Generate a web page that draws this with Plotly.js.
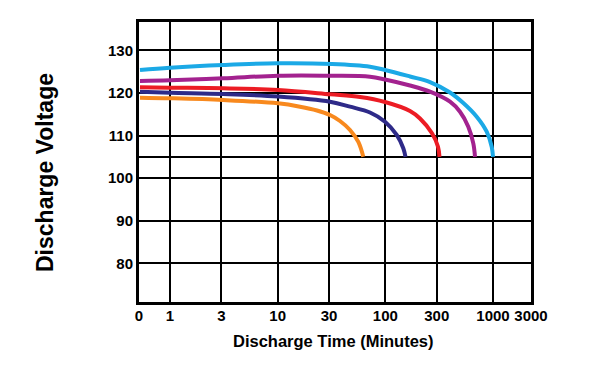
<!DOCTYPE html>
<html>
<head>
<meta charset="utf-8">
<script src="https://cdn.plot.ly/plotly-3.0.1.min.js"></script>
<style>html,body{margin:0;padding:0;background:#fff;}#chart{width:600px;height:368px;}</style>
</head>
<body>
<div id="chart"></div>
<script>
// Discharge time (minutes) and voltage for each curve
const blueT   = [0.526, 1, 3.11, 10.07, 31.97, 72.0, 99.3, 169.4, 259.9, 398.7, 529.9, 705.6, 873.9, 972.3, 1000];
const blueV   = [125.38, 125.91, 126.55, 126.95, 126.78, 126.15, 125.38, 123.85, 122.55, 120.10, 117.63, 114.42, 110.90, 107.38, 105];
const purpleT = [0.526, 1, 3.11, 10.07, 31.97, 72.0, 99.3, 169.4, 259.9, 398.7, 493.6, 589.5, 656.2, 680.4];
const purpleV = [122.80, 122.96, 123.43, 124.04, 124.04, 123.80, 123.15, 121.74, 120.29, 117.94, 115.59, 112.08, 108.18, 105];
const redT    = [0.526, 1, 3.11, 10.07, 30.62, 58.2, 99.3, 169.4, 209.8, 271.3, 308.4, 318.4];
const redV    = [121.32, 121.22, 121.08, 120.68, 119.68, 119.04, 117.87, 115.76, 114.00, 110.53, 107.38, 105];
const navyT   = [0.526, 1, 3.11, 10.07, 30.62, 46.97, 72.0, 99.3, 127.5, 146.8, 153.9];
const navyV   = [120.29, 120.05, 119.75, 119.16, 117.94, 116.77, 115.41, 113.25, 110.13, 107.01, 105];
const orangeT = [0.526, 1, 3.11, 10.07, 16.12, 23.19, 30.62, 37.9, 46.97, 56.1, 62.4];
const orangeV = [118.88, 118.74, 118.34, 117.56, 116.77, 115.88, 114.82, 113.41, 111.30, 108.49, 105];

// Axis ticks (the "0" and "3000" labels sit on the frame edges)
const xTickVals = [0.515, 1, 3, 10, 30, 100, 300, 1000, 2254];
const xTickText = ['0', '1', '3', '10', '30', '100', '300', '1000', '3000'];
const yTickVals = [80, 90, 100, 105, 110, 120, 130];
const yTickText = ['80', '90', '100', '', '110', '120', '130'];

const series = [
  {t: orangeT, v: orangeV, color: '#f8891e'},
  {t: navyT,   v: navyV,   color: '#2e2a88'},
  {t: redT,    v: redV,    color: '#ec1c24'},
  {t: purpleT, v: purpleV, color: '#a3228f'},
  {t: blueT,   v: blueV,   color: '#1ba9e6'}
];

const traces = series.map(s => ({
  x: s.t, y: s.v, type: 'scatter', mode: 'lines',
  line: {color: s.color, width: 4, shape: 'spline', smoothing: 1},
  hoverinfo: 'skip'
}));

const fam = 'Liberation Sans, Arial, sans-serif';
const tickFont = {family: fam, size: 15, color: '#000', weight: 'bold'};

const layout = {
  width: 600, height: 368,
  margin: {l: 139, r: 69, t: 22, b: 66, pad: 0},
  paper_bgcolor: '#fff', plot_bgcolor: '#fff',
  showlegend: false,
  xaxis: {
    type: 'log', range: [Math.log10(0.515), Math.log10(2254)],
    tickmode: 'array', tickvals: xTickVals, ticktext: xTickText,
    showgrid: true, gridcolor: '#000', gridwidth: 2,
    showline: true, linecolor: '#000', linewidth: 3, mirror: true,
    ticks: '', tickfont: tickFont, ticklabelstandoff: -2, zeroline: false
  },
  yaxis: {
    range: [70.95, 136.63],
    tickmode: 'array', tickvals: yTickVals, ticktext: yTickText,
    showgrid: true, gridcolor: '#000', gridwidth: 2,
    showline: true, linecolor: '#000', linewidth: 3, mirror: true,
    ticks: '', tickfont: tickFont, ticklabelstandoff: 0, zeroline: false
  },
  annotations: [
    {text: 'Discharge Time (Minutes)', xref: 'paper', yref: 'paper', x: 0.497, y: -0.139,
     xanchor: 'center', yanchor: 'middle', showarrow: false,
     font: {family: fam, size: 16.5, color: '#000', weight: 'bold'}},
    {text: 'Discharge Voltage', xref: 'paper', yref: 'paper', x: -0.240, y: 0.464,
     xanchor: 'center', yanchor: 'middle', showarrow: false, textangle: -90,
     font: {family: fam, size: 23, color: '#000', weight: 'bold'}}
  ]
};

Plotly.newPlot('chart', traces, layout, {staticPlot: true, displayModeBar: false});
</script>
</body>
</html>
